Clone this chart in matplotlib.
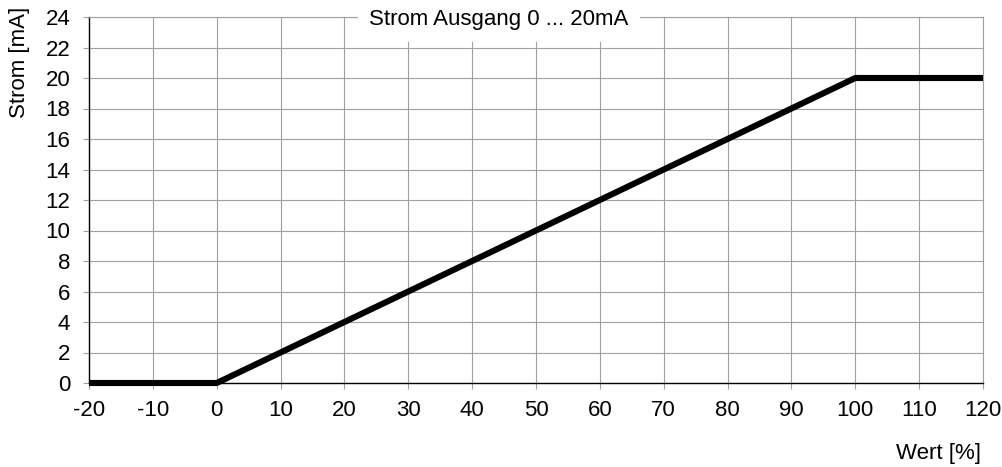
import numpy as np
import matplotlib.pyplot as plt

plt.rcParams['font.family'] = ['Liberation Sans', 'DejaVu Sans']
plt.rcParams['axes.unicode_minus'] = False

# Kennlinie Stromausgang
wert = [-20, 0, 100, 120]
strom = [0, 0, 20, 20]
x_ticks = list(range(-20, 121, 10))
y_ticks = list(range(0, 25, 2))

fig = plt.figure(figsize=(10.02, 4.67), dpi=100)
ax = fig.add_axes([89 / 1002, 1 - 383 / 467, 894 / 1002, 366 / 467])

ax.plot(wert, strom, color="black", lw=4.4, solid_capstyle="butt", clip_on=False, zorder=5)

ax.set_xlim(-20, 120)
ax.set_ylim(0, 24)
ax.set_xticks(x_ticks)
ax.set_yticks(y_ticks)
ax.tick_params(labelsize=16, length=4.5, width=0.8, color="#a0a0a0", direction="out")
ax.tick_params(axis="x", pad=8)
ax.tick_params(axis="y", pad=9)
ax.grid(True, color="#a0a0a0", lw=0.8)
ax.set_axisbelow(True)

for s in ["top", "right"]:
    ax.spines[s].set_color("#a0a0a0")
    ax.spines[s].set_linewidth(0.8)
for s in ["left", "bottom"]:
    ax.spines[s].set_color("black")
    ax.spines[s].set_linewidth(1.0)

ax.text((499 - 89) / 894, (467 - 20 - 84) / 366, "Strom Ausgang 0 ... 20mA", transform=ax.transAxes,
        ha="center", va="center", fontsize=16, zorder=6,
        bbox=dict(facecolor="white", edgecolor="none", pad=8))

fig.text(20 / 1002, 1 - 62 / 467, "Strom [mA]", rotation=90, ha="center", va="center", fontsize=16)
fig.text(938 / 1002, 1 - 453 / 467, "Wert [%]", ha="center", va="center", fontsize=16)

fig.savefig("out.png", dpi=100)
